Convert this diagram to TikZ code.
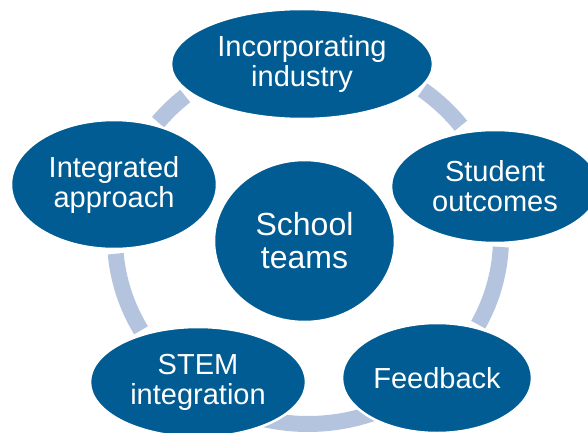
\documentclass[tikz,border=0pt]{standalone}
\usepackage{fontspec}
\setmainfont{Liberation Sans}
\usetikzlibrary{shapes.geometric}
\definecolor{darkblue}{RGB}{0,92,146}
\definecolor{ringblue}{RGB}{180,196,222}
\begin{document}
\begin{tikzpicture}[x=1pt,y=1pt,
  bub/.style={ellipse, fill=darkblue, draw=white, line width=2.5pt, inner sep=0pt,
    text=white, align=center, font=\fontsize{29}{30}\selectfont},
  ring/.style={draw=ringblue, line width=16pt, line cap=butt}]
\useasboundingbox (0,0) rectangle (588,432);
\coordinate (c) at (308,194);
% ring segments
\draw[ring] (c) ++(141:193pt and 184pt) arc[start angle=141, end angle=129.5, x radius=193pt, y radius=184pt];
\draw[ring] (c) ++(53.6:193pt and 184pt) arc[start angle=53.6, end angle=37.6, x radius=193pt, y radius=184pt];
\draw[ring] (c) ++(-2.8:193pt and 184pt) arc[start angle=-2.8, end angle=-28.1, x radius=193pt, y radius=184pt];
\draw[ring] (c) ++(300:193pt and 186pt) arc[start angle=300, end angle=250, x radius=193pt, y radius=186pt];
\draw[ring] (c) ++(210.1:193pt and 184pt) arc[start angle=210.1, end angle=184.9, x radius=193pt, y radius=184pt];
% bubbles
\node[bub, minimum width=262pt, minimum height=110pt] (ind) at (302,368) {Incorporating\\industry};
\node[bub, minimum width=206pt, minimum height=129pt] (int) at (114,247.5) {Integrated\\approach};
\node[bub, minimum width=208pt, minimum height=113pt] (stu) at (495,245.5) {Student\\outcomes};
\node[bub, minimum width=216pt, minimum height=110pt] (stem) at (198,50) {STEM\\integration};
\node[bub, minimum width=190pt, minimum height=110pt] (fb) at (437,54) {Feedback};
\node[bub, minimum width=181pt, minimum height=162pt, font=\fontsize{32}{33}\selectfont] (sch) at (304.5,191) {School\\teams};
\end{tikzpicture}
\end{document}
